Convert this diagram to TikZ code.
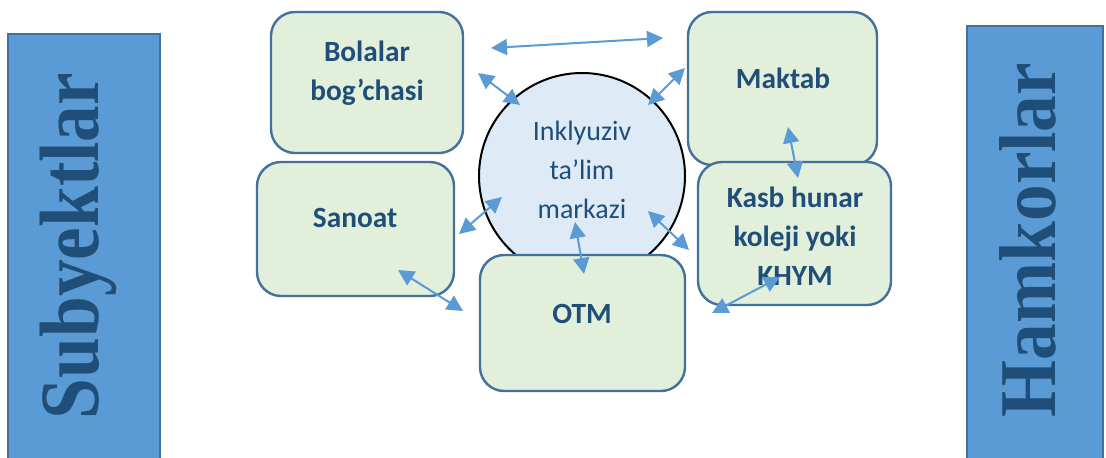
\documentclass[tikz,border=0pt]{standalone}
\usepackage{fontspec}
\setmainfont{Carlito}
\newfontfamily\barfont{Liberation Serif}
\usepackage{tkz-euclide}
\usetikzlibrary{arrows.meta}

\definecolor{boxgreen}{HTML}{E2EFDA}
\definecolor{boxline}{HTML}{41719C}
\definecolor{textblue}{HTML}{1F4E79}
\definecolor{circfill}{HTML}{DEEBF7}
\definecolor{barblue}{HTML}{5B9BD5}
\definecolor{arrowblue}{HTML}{5B9BD5}

\tikzset{
  box/.style={draw=boxline, fill=boxgreen, line width=1.8pt, rounded corners=18pt, inner sep=0pt},
  boxtext/.style={text=textblue, font=\bfseries\fontsize{22}{29}\selectfont, align=center, anchor=base},
  circtext/.style={text=textblue, font=\fontsize{21}{29}\selectfont, align=center, anchor=base},
  bar/.style={draw=boxline, fill=barblue, line width=1.2pt, inner sep=0pt},
  bartext/.style={text=textblue, font=\barfont\bfseries\fontsize{55}{60}\selectfont, rotate=90, anchor=base, inner sep=0pt},
  link/.style={arrowblue, line width=1.5pt, >={Triangle[length=12pt,width=12pt]}, <->},
}

\begin{document}
\begin{tikzpicture}[x=0.75pt, y=-0.75pt]
                \useasboundingbox (0,0) rectangle (1106,457);

                % side bars
                \node[bar, minimum width=114pt, minimum height=327pt] (subbar) at (84,252) {};
                \node[bar, minimum width=102pt, minimum height=333pt] (hambar) at (1035,248) {};
                \node[bartext] (subtxt) at (98,246) {\scalebox{1}[1.15]{Subyektlar}};
                \node[bartext] (hamtxt) at (1055,240) {\scalebox{1}[1.1]{Hamkorlar}};

                % boxes
                \node[box, minimum width=144pt, minimum height=105.75pt] (bolalar) at (367,82.5) {};
                \node[box, minimum width=141.75pt, minimum height=114.75pt] (maktab) at (782.5,88.5) {};
                \node[box, minimum width=144.75pt, minimum height=107.25pt] (kasb) at (794.5,233.5) {};
                \node[box, minimum width=147.75pt, minimum height=100.5pt] (sanoat) at (355.5,229) {};
                \node[circle, draw=black, fill=circfill, line width=1.5pt, minimum size=154.5pt, inner sep=0pt] (markaz) at (582,176) {};
                \node[box, minimum width=153.75pt, minimum height=102pt] (otm) at (582.5,323) {};

                % texts (base = last line)
                \node[boxtext] (bolalartxt) at (367,100) {Bolalar\\bog’chasi};
                \node[boxtext] (maktabtxt) at (783,88) {Maktab};
                \node[boxtext] (kasbtxt) at (795,285) {Kasb hunar\\koleji yoki\\KHYM};
                \node[boxtext] (sanoattxt) at (355,227) {Sanoat};
                \node[boxtext] (otmtxt) at (582,323) {OTM};
                \node[circtext] (markaztxt) at (582,218) {Inklyuziv\\ta’lim\\markazi};

                % links
                \tkzDefPoint(491,48){bm1}
                \tkzDefPoint(663,38){bm2}
                \tkzDefPoint(478,73){bc1}
                \tkzDefPoint(520,105){bc2}
                \tkzDefPoint(648,105){cm1}
                \tkzDefPoint(685,68){cm2}
                \tkzDefPoint(788,127){mk1}
                \tkzDefPoint(798,178){mk2}
                \tkzDefPoint(502,197){cs1}
                \tkzDefPoint(459,234){cs2}
                \tkzDefPoint(575,222){co1}
                \tkzDefPoint(584,274){co2}
                \tkzDefPoint(648,211){ck1}
                \tkzDefPoint(689,250){ck2}
                \tkzDefPoint(398,270){so1}
                \tkzDefPoint(463,311){so2}
                \tkzDefPoint(780,277){ko1}
                \tkzDefPoint(712,313){ko2}

                \tkzDrawSegment[link](bm1,bm2)
                \tkzDrawSegment[link](bc1,bc2)
                \tkzDrawSegment[link](cm1,cm2)
                \tkzDrawSegment[link](mk1,mk2)
                \tkzDrawSegment[link](cs1,cs2)
                \tkzDrawSegment[link](co1,co2)
                \tkzDrawSegment[link](ck1,ck2)
                \tkzDrawSegment[link](so1,so2)
                \tkzDrawSegment[link](ko1,ko2)
\end{tikzpicture}
\end{document}
